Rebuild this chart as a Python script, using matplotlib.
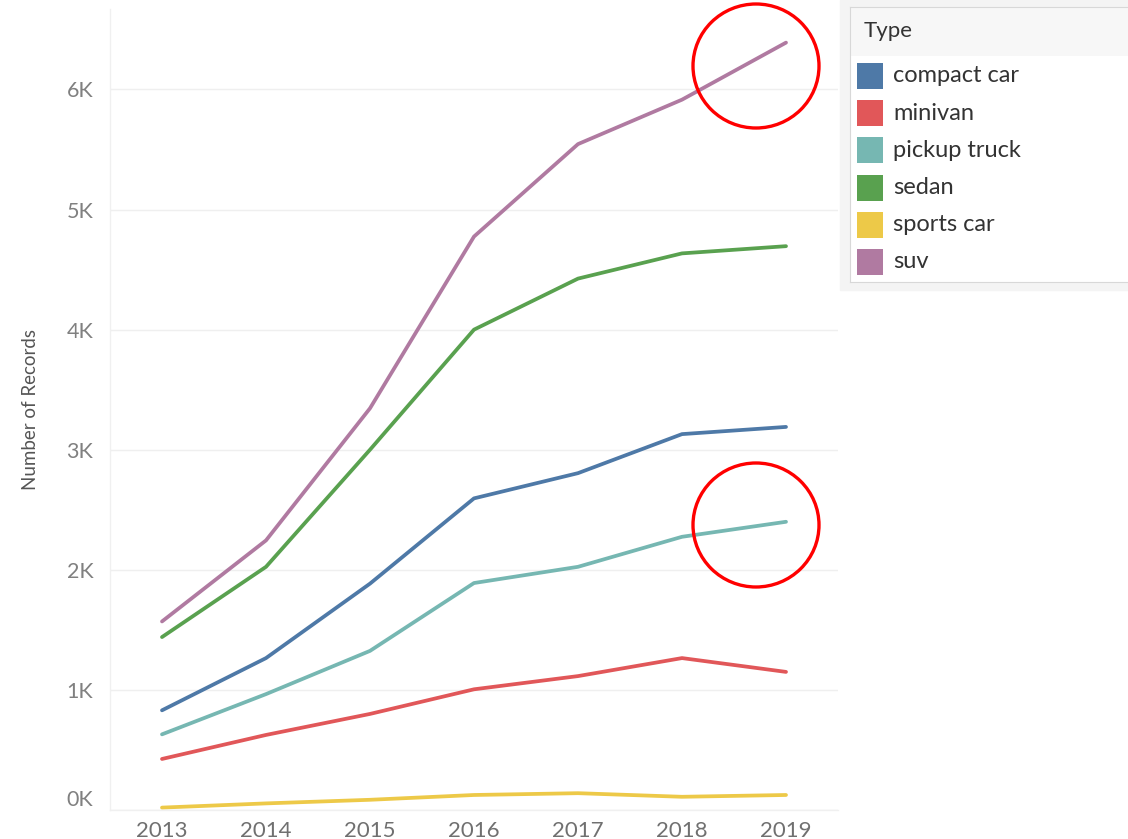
import matplotlib.pyplot as plt
from matplotlib.patches import Rectangle, Ellipse

# data
years = [2013, 2014, 2015, 2016, 2017, 2018, 2019]
types = ['compact car', 'minivan', 'pickup truck', 'sedan', 'sports car', 'suv']
compact_car = [830, 1265, 1885, 2595, 2805, 3130, 3190]
minivan = [425, 625, 800, 1005, 1115, 1265, 1150]
pickup_truck = [630, 965, 1325, 1890, 2025, 2275, 2400]
sedan = [1440, 2025, 3000, 4000, 4425, 4635, 4695]
sports_car = [20, 55, 85, 125, 140, 110, 125]
suv = [1570, 2245, 3345, 4775, 5545, 5915, 6390]
colors = ['#4E79A7', '#E15759', '#76B7B2', '#59A14F', '#EDC948', '#B07AA1']
y_ticks = [0, 1000, 2000, 3000, 4000, 5000, 6000]
y_labels = ['0K', '1K', '2K', '3K', '4K', '5K', '6K']

series = [compact_car, minivan, pickup_truck, sedan, sports_car, suv]

plt.rcParams['font.family'] = ['Lato', 'DejaVu Sans']

W, H = 1128, 839
fig = plt.figure(figsize=(W / 100, H / 100), dpi=100)

ax = fig.add_axes([110 / W, 1 - 810 / H, (838 - 110) / W, (810 - 9) / H])
for vals, c in zip(series, colors):
    ax.plot(years, vals, color=c, lw=2.7, solid_capstyle='round', solid_joinstyle='round')

ax.set_xlim(2012.5, 2019.5)
ax.set_ylim(0, 6670)
ax.set_xticks(years)
ax.set_xticklabels([str(y) for y in years], fontsize=16, color='#707070')
ax.set_yticks(y_ticks)
ax.set_yticklabels(y_labels, fontsize=15.5, color='#808080')
ax.get_yticklabels()[0].set_va('bottom')
ax.tick_params(length=0, pad=12)
ax.tick_params(axis='x', pad=8)
ax.grid(axis='y', color='#EFEFEF', lw=1)
ax.set_axisbelow(True)
for s in ['top', 'right']:
    ax.spines[s].set_visible(False)
for s in ['left', 'bottom']:
    ax.spines[s].set_color('#F0F0F0')
    ax.spines[s].set_linewidth(1)
ax.set_ylabel('Number of Records', fontsize=13.5, color='#555555', labelpad=20)

# legend panel
fig.add_artist(Rectangle((840 / W, 1 - 290 / H), (W - 840) / W, 290 / H,
                         transform=fig.transFigure, color='#F4F4F4', zorder=0))
lax = fig.add_axes([850 / W, 1 - 282 / H, (W - 850 + 2) / W, (282 - 7) / H])
lax.set_xlim(0, W - 850 + 2)
lax.set_ylim(275, 0)
lax.set_xticks([])
lax.set_yticks([])
lax.set_facecolor('white')
for s in lax.spines.values():
    s.set_color('#D8D8D8')
lax.add_patch(Rectangle((0, 0), 300, 49, color='#F7F7F7', lw=0))
lax.text(14, 24, 'Type', fontsize=16, color='#333333', va='center')
for i, (t, c) in enumerate(zip(types, colors)):
    yc = 69 + i * 37.2
    lax.add_patch(Rectangle((7, yc - 13), 26, 26, color=c, lw=0))
    lax.text(43, yc, t, fontsize=17, color='#333333', va='center')

# red highlight circles
for cx, cy in [(756, 66), (756, 525)]:
    fig.add_artist(Ellipse((cx / W, 1 - cy / H), 126 / W, 124 / H,
                           transform=fig.transFigure, fill=False,
                           edgecolor='#FF0000', lw=2.4, zorder=10))

fig.savefig('out.png', dpi=100)
